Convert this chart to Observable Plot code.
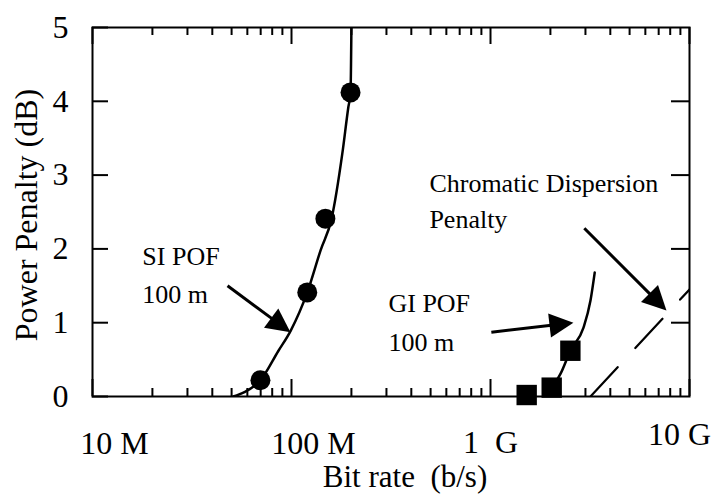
<!DOCTYPE html>
<html>
<head>
<meta charset="utf-8">
<script src="https://cdn.jsdelivr.net/npm/d3@7"></script>
<script src="https://cdn.jsdelivr.net/npm/@observablehq/plot@0.6"></script>
<style>
  body { margin: 0; background: #fff; }
  #chart svg { font-family: "Liberation Serif", "Times New Roman", serif; background: #fff; }
</style>
</head>
<body>
<div id="chart"></div>
<script>
// ---- Data ----
// SI POF 100 m measured points
const siRate    = [69.8e6, 120e6, 148e6, 198e6];
const siPenalty = [0.22, 1.41, 2.41, 4.12];
// SI POF fitted curve
const siCurveRate    = [51e6, 58e6, 69.8e6, 86e6, 99e6, 120e6, 140e6, 159e6, 180e6, 193e6, 198e6, 200e6];
const siCurvePenalty = [0, 0.06, 0.22, 0.62, 0.89, 1.41, 1.98, 2.41, 3.29, 3.92, 4.12, 5.0];
// GI POF 100 m measured points
const giRate    = [1.52e9, 2.03e9, 2.52e9];
const giPenalty = [0.02, 0.12, 0.62];
// GI POF fitted curve
const giCurveRate    = [2.03e9, 2.25e9, 2.52e9, 2.93e9, 3.18e9, 3.34e9];
const giCurvePenalty = [0.12, 0.31, 0.62, 0.93, 1.30, 1.68];
// Chromatic dispersion penalty (dashed)
const cdRate    = [3.18e9, 1e10];
const cdPenalty = [0, 1.45];
// Annotation arrows (data coordinates)
const arrowX1 = [4.77e7, 1.01e9, 2.96e9];
const arrowY1 = [1.50, 0.87, 2.28];
const arrowX2 = [9.88e7, 2.61e9, 7.66e9];
const arrowY2 = [0.87, 1.00, 1.165];
// Annotation labels
const noteText = ["SI POF", "100 m", "GI POF", "100 m", "Chromatic Dispersion", "Penalty"];
const noteX    = [1.78e7, 1.78e7, 3.07e8, 3.07e8, 4.93e8, 4.93e8];
const noteY    = [1.90, 1.38, 1.26, 0.725, 2.89, 2.40];
// Axes
const xMajor = [1e7, 1e8, 1e9, 1e10];
const xMinor = [2,3,4,5,6,7,8,9].flatMap(m => [1e7, 1e8, 1e9].map(d => m * d));
const xTickLabels = ["10\u00a0M", "100\u00a0M", "1\u00a0\u00a0G", "10\u00a0G"];
const yTicks = [0, 1, 2, 3, 4, 5];
const yRightTicks = [1, 2, 3, 4];
const xTitle = "Bit rate\u00a0\u00a0(b/s)";
const yTitle = "Power Penalty (dB)";

// ---- Tables built from the arrays ----
const siPts = siRate.map((x, i) => ({x, y: siPenalty[i]}));
const siCurve = siCurveRate.map((x, i) => ({x, y: siCurvePenalty[i]}));
const giPts = giRate.map((x, i) => ({x, y: giPenalty[i]}));
const giCurve = giCurveRate.map((x, i) => ({x, y: giCurvePenalty[i]}));
const cdLine = cdRate.map((x, i) => ({x, y: cdPenalty[i]}));
const arrows = arrowX1.map((x1, i) => ({x1, y1: arrowY1[i], x2: arrowX2[i], y2: arrowY2[i]}));
const notes = noteText.map((t, i) => ({t, x: noteX[i], y: noteY[i]}));
const xLab = xMajor.map((x, i) => ({x, t: xTickLabels[i]}));

const FONT = "Liberation Serif";
const W = 722, H = 495;
const mL = 92, mR = 33, mT = 27, mB = 99;
const pw = W - mL - mR, ph = H - mT - mB;

function xLabelMark(i, dx, dy) {
  return Plot.text([xLab[i]], {x: "x", text: "t", frameAnchor: "bottom", dx, dy,
    fontSize: 32, fontFamily: FONT, fill: "black", textAnchor: "middle", lineAnchor: "middle"});
}

const chart = Plot.plot({
  width: W, height: H,
  marginLeft: mL, marginRight: mR, marginTop: mT, marginBottom: mB,
  style: {fontFamily: FONT, background: "#fff"},
  x: {type: "log", domain: [1e7, 1e10], axis: null},
  y: {domain: [0, 5], axis: null},
  marks: [
    // ticks (inward)
    Plot.tickX(xMajor, {x: d => d, insetTop: ph - 17, stroke: "black", strokeWidth: 2}),
    Plot.tickX(xMinor, {x: d => d, insetTop: ph - 8, stroke: "black", strokeWidth: 2}),
    Plot.tickX(xMajor, {x: d => d, insetBottom: ph - 17, stroke: "black", strokeWidth: 2}),
    Plot.tickX(xMinor, {x: d => d, insetBottom: ph - 8, stroke: "black", strokeWidth: 2}),
    Plot.tickY(yTicks, {y: d => d, insetRight: pw - 16, stroke: "black", strokeWidth: 2}),
    Plot.tickY(yRightTicks, {y: d => d, insetLeft: pw - 18, stroke: "black", strokeWidth: 2}),
    Plot.frame({stroke: "black", strokeWidth: 2}),
    // y tick labels
    Plot.text(yTicks, {y: d => d, text: d => String(d), frameAnchor: "left", dx: -24,
      textAnchor: "end", lineAnchor: "middle", fontSize: 32, fontFamily: FONT, fill: "black"}),
    // x tick labels
    xLabelMark(0, 22, 47),
    xLabelMark(1, 22, 47),
    xLabelMark(2, 0, 46),
    xLabelMark(3, -10, 38),
    // axis titles
    Plot.text([xTitle], {text: d => d, frameAnchor: "bottom", dx: 14, dy: 81,
      textAnchor: "middle", lineAnchor: "middle", fontSize: 31, fontFamily: FONT, fill: "black"}),
    Plot.text([yTitle], {text: d => d, frameAnchor: "left", rotate: -90, dx: -66, dy: 3,
      textAnchor: "middle", lineAnchor: "middle", fontSize: 32, fontFamily: FONT, fill: "black"}),
    // curves
    Plot.line(siCurve, {x: "x", y: "y", curve: "monotone-x", stroke: "black", strokeWidth: 2.5, clip: true}),
    Plot.line(giCurve, {x: "x", y: "y", curve: "monotone-x", stroke: "black", strokeWidth: 2.5, clip: true}),
    Plot.line(cdLine, {x: "x", y: "y", stroke: "black", strokeWidth: 2.2, strokeDasharray: "40,26", clip: true}),
    // data points
    Plot.dot(siPts, {x: "x", y: "y", r: 10, fill: "black", stroke: "none"}),
    Plot.dot(giPts, {x: "x", y: "y", r: 11.5, symbol: "square", fill: "black", stroke: "none"}),
    // arrows
    Plot.link(arrows, {x1: "x1", y1: "y1", x2: "x2", y2: "y2", stroke: "black", strokeWidth: 3}),
    // annotations
    Plot.text(notes, {x: "x", y: "y", text: "t", textAnchor: "start", lineAnchor: "middle",
      fontSize: 26, fontFamily: FONT, fill: "black"})
  ]
});

// filled arrowheads at the end of each link
d3.select(chart).selectAll('g[aria-label="link"] path').each(function() {
  const nums = this.getAttribute("d").match(/-?\d*\.?\d+(e[-+]?\d+)?/gi).map(Number);
  const x1 = nums[0], y1 = nums[1], x2 = nums[nums.length - 2], y2 = nums[nums.length - 1];
  const a = Math.atan2(y2 - y1, x2 - x1);
  const L = 24, Wd = 12;
  const bx = x2 - L * Math.cos(a), by = y2 - L * Math.sin(a);
  const pts = [[x2, y2], [bx - Wd * Math.sin(a), by + Wd * Math.cos(a)], [bx + Wd * Math.sin(a), by - Wd * Math.cos(a)]];
  d3.select(this.parentNode).append("polygon")
    .attr("points", pts.map(p => p.join(",")).join(" "))
    .attr("fill", "black").attr("stroke", "none");
  const ex = x2 - (L - 4) * Math.cos(a), ey = y2 - (L - 4) * Math.sin(a);
  this.setAttribute("d", `M${x1},${y1}L${ex},${ey}`);
});

document.getElementById("chart").appendChild(chart);
</script>
</body>
</html>
